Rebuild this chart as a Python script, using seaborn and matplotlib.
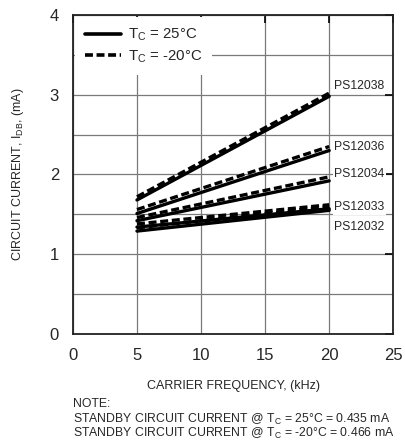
import pandas as pd
import matplotlib
matplotlib.use('Agg')
import matplotlib.pyplot as plt
import seaborn as sns
from matplotlib.lines import Line2D

# --- datos ---
frecuencia = [5, 20]
dispositivos = ['PS12038', 'PS12036', 'PS12034', 'PS12033', 'PS12032']
corriente_25 = {
    'PS12038': [1.68, 2.98],
    'PS12036': [1.51, 2.30],
    'PS12034': [1.42, 1.92],
    'PS12033': [1.34, 1.57],
    'PS12032': [1.29, 1.55],
}
corriente_m20 = {
    'PS12038': [1.72, 3.02],
    'PS12036': [1.56, 2.35],
    'PS12034': [1.46, 1.97],
    'PS12033': [1.38, 1.62],
    'PS12032': [1.33, 1.60],
}
pos_etiquetas = [3.11, 2.35, 2.00, 1.59, 1.34]

filas = []
for d in dispositivos:
    for f, v in zip(frecuencia, corriente_25[d]):
        filas.append({'freq': f, 'corriente': v, 'disp': d, 'temp': '25'})
    for f, v in zip(frecuencia, corriente_m20[d]):
        filas.append({'freq': f, 'corriente': v, 'disp': d, 'temp': '-20'})
df = pd.DataFrame(filas)

sns.set_style('white')
plt.rcParams['font.family'] = ['Liberation Sans', 'DejaVu Sans']
plt.rcParams['mathtext.fontset'] = 'custom'
plt.rcParams['mathtext.rm'] = 'Liberation Sans'
plt.rcParams['mathtext.it'] = 'Liberation Sans'

fig = plt.figure(figsize=(4.05, 4.40), dpi=100)
ax = fig.add_axes([0.180, 0.241, 0.791, 0.725])

guiones = {'25': '', '-20': (2.4, 1.1)}
sns.lineplot(data=df, x='freq', y='corriente', units='disp', estimator=None,
             style='temp', dashes=guiones, style_order=['25', '-20'],
             color='black', linewidth=2.4, legend=False, ax=ax, zorder=3)

ax.set_xlim(0, 25)
ax.set_ylim(0, 4)
ax.set_xticks([0, 5, 10, 15, 20, 25])
ax.set_yticks([0, 1, 2, 3, 4])
ax.set_yticks([0.5, 1.5, 2.5, 3.5], minor=True)
ax.grid(True, which='both', color='#7a7a7a', linewidth=0.9)
ax.tick_params(which='major', direction='in', length=6, width=1.2, top=True, right=True,
               labelsize=12, pad=10, color='black')
ax.tick_params(which='minor', length=0)
for s in ax.spines.values():
    s.set_color('#222222')
    s.set_linewidth(1.3)

ax.set_xlabel('CARRIER FREQUENCY, (kHz)', fontsize=9, labelpad=12)
ax.set_ylabel(r'CIRCUIT CURRENT, I$_\mathrm{DB}$, (mA)', fontsize=9, labelpad=17)

# etiquetas de cada dispositivo
for d, yv in zip(dispositivos, pos_etiquetas):
    ax.text(20.4, yv, d, fontsize=8.8, va='center', ha='left', zorder=4,
            bbox=dict(facecolor='white', edgecolor='none', pad=1))

manejadores = [Line2D([], [], color='black', linewidth=2.6),
               Line2D([], [], color='black', linewidth=2.6, dashes=(2.2, 1.0))]
leg = ax.legend(manejadores, [r'T$_\mathrm{C}$ = 25°C', r'T$_\mathrm{C}$ = -20°C'],
                loc='upper left', fontsize=10.8, handlelength=2.4, handletextpad=0.45,
                borderaxespad=0.15, borderpad=0.65, labelspacing=0.35,
                frameon=True, fancybox=False)
leg.get_frame().set_facecolor('white')
leg.get_frame().set_edgecolor('none')
leg.get_frame().set_alpha(1)
leg.set_zorder(5)

fig.text(0.180, 0.082, 'NOTE:', fontsize=8.8, va='center')
fig.text(0.180, 0.046, r'STANDBY CIRCUIT CURRENT @ T$_\mathrm{C}$ = 25°C = 0.435 mA', fontsize=8.8, va='center')
fig.text(0.180, 0.014, r'STANDBY CIRCUIT CURRENT @ T$_\mathrm{C}$ = -20°C = 0.466 mA', fontsize=8.8, va='center')

plt.savefig('out.png', dpi=100, facecolor='white')
